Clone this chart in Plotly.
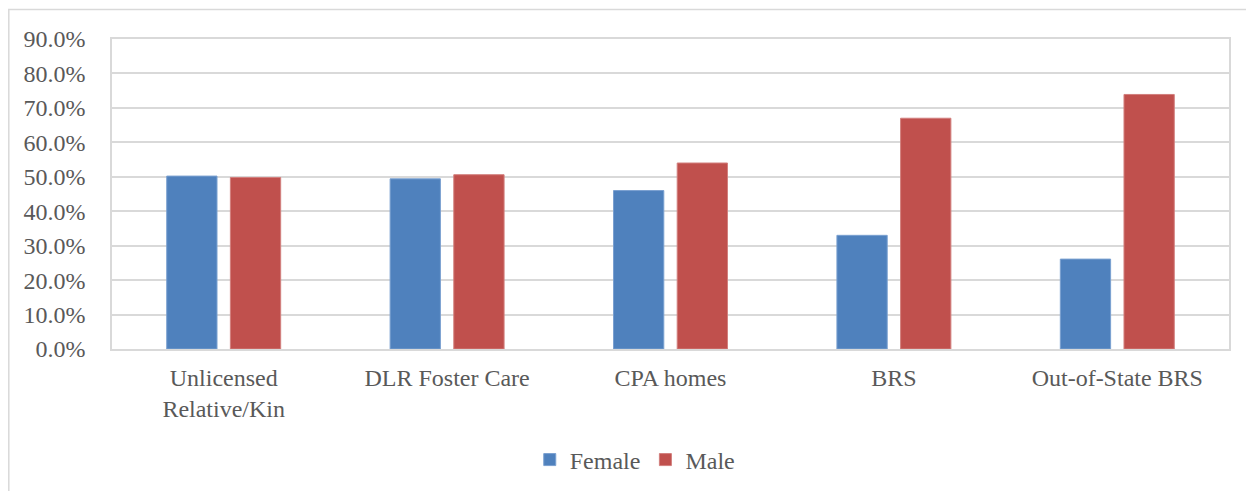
import plotly.graph_objects as go

categories = ["Unlicensed<br>Relative/Kin", "DLR Foster Care", "CPA homes", "BRS", "Out-of-State BRS"]
female = [0.502, 0.494, 0.460, 0.330, 0.261]
male = [0.498, 0.506, 0.540, 0.670, 0.739]
tick_vals = [0.0, 0.1, 0.2, 0.3, 0.4, 0.5, 0.6, 0.7, 0.8, 0.9]

FONT = "Liberation Serif"
GRID = "#d9d9d9"
TXT = "#595959"

fig = go.Figure()
fig.add_trace(go.Bar(name="Female", x=categories, y=female,
                     marker=dict(color="#4F81BD", line=dict(color="#7aa0d0", width=1))))
fig.add_trace(go.Bar(name="Male", x=categories, y=male,
                     marker=dict(color="#C0504D", line=dict(color="#d27f7d", width=1))))

fig.update_layout(
    width=1246, height=483,
    margin=dict(l=104, r=25, t=31, b=142, autoexpand=False),
    paper_bgcolor="white", plot_bgcolor="white",
    font=dict(family=FONT, size=24, color=TXT),
    barmode="group", bargap=0.43, bargroupgap=0.21,
    legend=dict(orientation="h", x=0.468, xanchor="center", y=-0.358, yanchor="middle",
                font=dict(family=FONT, size=24, color=TXT), itemwidth=30),
    showlegend=True,
)
fig.update_yaxes(range=[0, 0.9], tickvals=tick_vals, tickformat=".1%",
                 showgrid=True, gridcolor=GRID, gridwidth=1.5,
                 showline=True, linecolor=GRID, linewidth=1.5, mirror=True,
                 zeroline=False, ticklabelstandoff=20, fixedrange=True, automargin=False)
fig.update_xaxes(showline=True, linecolor=GRID, linewidth=1.5, mirror=True,
                 showgrid=False, ticklabelstandoff=6, fixedrange=True, automargin=False)

fig.add_shape(type="rect", xref="paper", yref="paper",
              x0=-0.0924, x1=1.5, y0=-1.0, y1=1.095,
              line=dict(color=GRID, width=1.5), layer="below")

fig.write_html("out.html")
